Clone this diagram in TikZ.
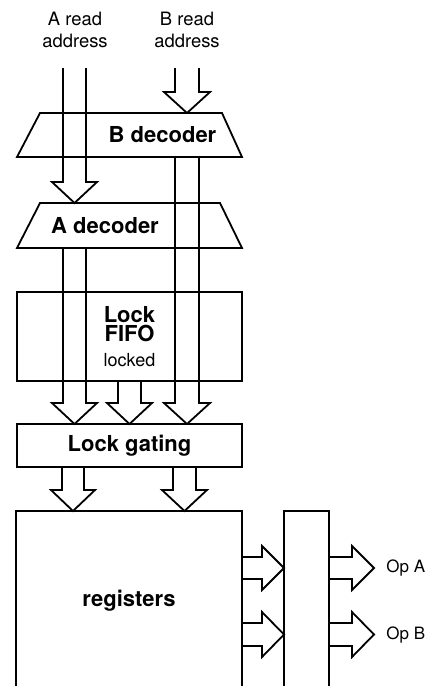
\documentclass[tikz,border=0pt]{standalone}
\usepackage{fontspec}
\setmainfont{TeX Gyre Heros}
\usetikzlibrary{positioning, calc}

% hollow bus arrows: x left, x right (or y top, y bottom), from, to
\newcommand{\busdown}[4]{%
  \draw[bus] let \p1=(#3), \p2=(#4), \p3=(#1,0), \p4=(#2,0) in
    (\x3,\y1) -- (\x3,\y2+10.5pt) -- (\x3-5.5pt,\y2+10.5pt) -- ({(\x3+\x4)/2},\y2)
    -- (\x4+5.5pt,\y2+10.5pt) -- (\x4,\y2+10.5pt) -- (\x4,\y1);}
\newcommand{\busright}[4]{%
  \draw[bus] let \p1=(#3), \p2=(#4), \p3=(0,#1), \p4=(0,#2) in
    (\x1,\y3) -- (\x2-11pt,\y3) -- (\x2-11pt,\y3+5.5pt) -- (\x2,{(\y3+\y4)/2})
    -- (\x2-11pt,\y4-5.5pt) -- (\x2-11pt,\y4) -- (\x1,\y4);}

\begin{document}
\begin{tikzpicture}[
    x=0.5pt, y=-0.5pt,
    block/.style={draw, line width=0.9pt, minimum width=112.5pt, inner sep=0pt,
                  outer sep=0pt, align=center, font=\bfseries\fontsize{11}{9.5}\selectfont},
    dec/.style={draw, line width=0.9pt, line join=miter},
    declabel/.style={font=\bfseries\fontsize{11}{13}\selectfont, inner sep=0pt},
    addr/.style={align=center, inner sep=0pt, font=\fontsize{9.2}{11}\selectfont},
    oplabel/.style={inner sep=0pt, font=\fontsize{8.5}{10}\selectfont},
    bus/.style={line width=0.9pt, line join=miter}
  ]
    \useasboundingbox (0,0) rectangle (430,686);

    \node[addr] (alabel) at (75,30) {A read\\address};
    \node[addr] (blabel) at (187,30) {B read\\address};
    \coordinate (atop) at (75,68);
    \coordinate (btop) at (187,68);

    % decoders
    \draw[dec] (17,157) -- (40,113) -- (222,113) -- (242,157) -- cycle;
    \coordinate (bdecin) at (129.5,113);
    \coordinate (bdecout) at (129.5,157);
    \node[declabel] (bdec) at (162.5,135) {B decoder};
    \draw[dec] (17,248) -- (40,203) -- (220,203) -- (242,248) -- cycle;
    \coordinate (adecin) at (129.5,203);
    \coordinate (adecout) at (129.5,248);
    \node[declabel] (adec) at (105,226) {A decoder};

    \node[block, minimum height=44.5pt] (fifo) at (129.5,336.5)
      {Lock\\FIFO\\[3pt]\mdseries\fontsize{9}{9}\selectfont locked};
    \node[block, minimum height=21.5pt] (gate) at (129.5,445.5) {Lock gating};
    \node[block, minimum width=113pt, minimum height=89.5pt] (regs) at (129,600.5) {registers};
    \node[block, minimum width=22.5pt, minimum height=89.5pt] (mux) at (306.5,600.5) {};

    \coordinate (opAtip) at (374,568);
    \coordinate (opBtip) at (374,635);
    \node[oplabel, right=6pt of opAtip] (opa) {Op A};
    \node[oplabel, right=6pt of opBtip] (opb) {Op B};

    \busdown{63}{86}{atop}{adecin}
    \busdown{175}{199}{btop}{bdecin}
    \busdown{175}{199}{bdecout}{gate.north}
    \busdown{63}{86}{adecout}{gate.north}
    \busdown{118}{141}{fifo.south}{gate.north}
    \busdown{62}{84}{gate.south}{regs.north}
    \busdown{173}{196}{gate.south}{regs.north}
    \busright{557}{579}{regs.east}{mux.west}
    \busright{623}{646}{regs.east}{mux.west}
    \busright{557}{579}{mux.east}{opAtip}
    \busright{623}{646}{mux.east}{opBtip}
\end{tikzpicture}
\end{document}
